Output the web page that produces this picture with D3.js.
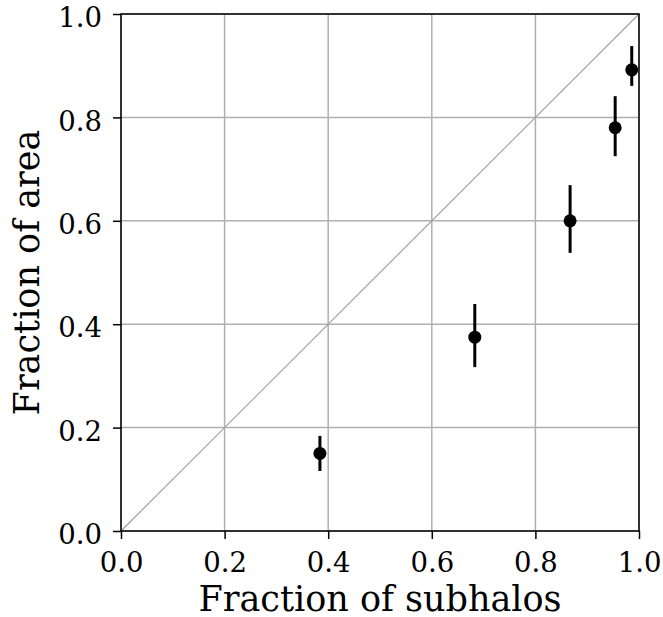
<!DOCTYPE html>
<html><head><meta charset="utf-8">
<script src="https://cdn.jsdelivr.net/npm/d3@7"></script>
<style>body{margin:0;background:#fff}svg{display:block}</style>
</head><body>
<script>
const xValues = [0.384, 0.683, 0.867, 0.954, 0.986];
const yValues = [0.150, 0.375, 0.600, 0.780, 0.892];
const yLower  = [0.116, 0.317, 0.538, 0.725, 0.861];
const yUpper  = [0.184, 0.439, 0.669, 0.841, 0.938];
const tickValues = [0.0, 0.2, 0.4, 0.6, 0.8, 1.0];
const xLabel = "Fraction of subhalos";
const yLabel = "Fraction of area";

const W = 663, H = 617;
const m = {left: 121, top: 14, right: 24, bottom: 86};
const svg = d3.select("body").append("svg").attr("width", W).attr("height", H);
const x = d3.scaleLinear().domain([0,1]).range([m.left, W - m.right]);
const y = d3.scaleLinear().domain([0,1]).range([H - m.bottom, m.top]);
const font = "DejaVu Serif";

// grid
const g = svg.append("g");
tickValues.forEach(t => {
  g.append("line").attr("x1", x(t)).attr("x2", x(t)).attr("y1", y(0)).attr("y2", y(1))
    .attr("stroke", "#b0b0b0").attr("stroke-width", 1.5);
  g.append("line").attr("y1", y(t)).attr("y2", y(t)).attr("x1", x(0)).attr("x2", x(1))
    .attr("stroke", "#b0b0b0").attr("stroke-width", 1.5);
});
// diagonal
svg.append("line").attr("x1", x(0)).attr("y1", y(0)).attr("x2", x(1)).attr("y2", y(1))
  .attr("stroke", "#a0a0a0").attr("stroke-width", 1.2);

// axes
const xAxis = d3.axisBottom(x).tickValues(tickValues).tickFormat(d3.format(".1f")).tickSize(8);
const yAxis = d3.axisLeft(y).tickValues(tickValues).tickFormat(d3.format(".1f")).tickSize(8);
const gx = svg.append("g").attr("transform", `translate(0,${y(0)})`).call(xAxis);
const gy = svg.append("g").attr("transform", `translate(${x(0)},0)`).call(yAxis);
[gx, gy].forEach(a => {
  a.select(".domain").remove();
  a.selectAll(".tick line").attr("stroke", "#000").attr("stroke-width", 1.5);
  a.selectAll(".tick text").attr("font-family", font).attr("font-size", 27.5).attr("fill", "#000");
});
gx.selectAll(".tick text").attr("y", 41).attr("dy", 0);
gy.selectAll(".tick text").attr("x", -19).attr("dy", "0.46em");

// frame
svg.append("rect").attr("x", x(0)).attr("y", y(1)).attr("width", x(1)-x(0)).attr("height", y(0)-y(1))
  .attr("fill", "none").attr("stroke", "#000").attr("stroke-width", 1.5);

// error bars + points
const pts = svg.append("g");
xValues.forEach((xv, i) => {
  pts.append("line").attr("x1", x(xv)).attr("x2", x(xv)).attr("y1", y(yLower[i])).attr("y2", y(yUpper[i]))
    .attr("stroke", "#000").attr("stroke-width", 3);
  pts.append("circle").attr("cx", x(xv)).attr("cy", y(yValues[i])).attr("r", 6.5).attr("fill", "#000");
});

// labels
svg.append("text").attr("x", (x(0)+x(1))/2).attr("y", 611).attr("text-anchor", "middle")
  .attr("font-family", font).attr("font-size", 35).text(xLabel);
svg.append("text").attr("transform", `translate(39,${(y(0)+y(1))/2}) rotate(-90)`).attr("text-anchor", "middle")
  .attr("font-family", font).attr("font-size", 35).text(yLabel);
</script>
</body></html>
